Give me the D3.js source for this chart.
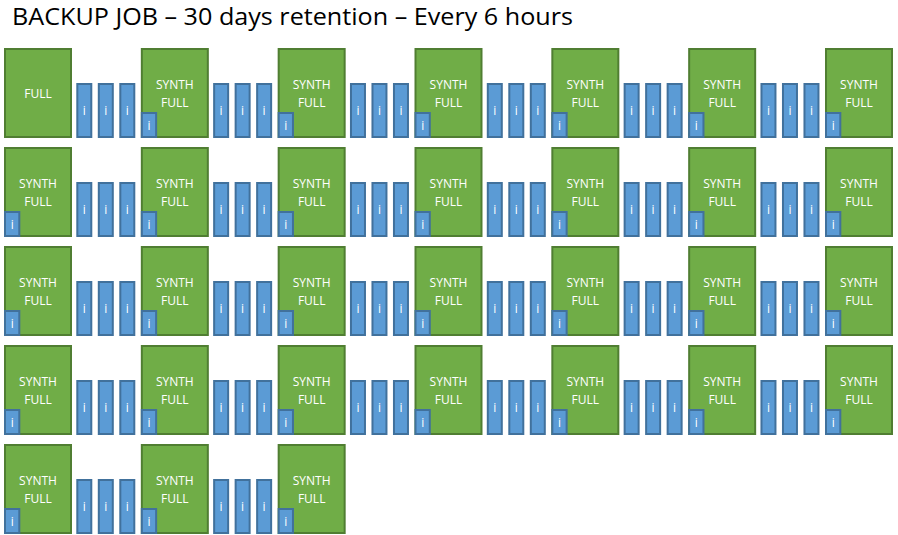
<!DOCTYPE html>
<html>
<head>
<meta charset="utf-8">
<script src="https://cdn.jsdelivr.net/npm/d3@7"></script>
<style>
  body { margin: 0; background: #fff; }
  svg text { font-family: "Open Sans", sans-serif; fill: #fff; }
</style>
</head>
<body>
<div class="board"></div>
<script>
// title of the sheet
var title = "BACKUP JOB \u2013 30 days retention \u2013 Every 6 hours";

// one entry per day, 31 days shown
var fullLabels = [
  "FULL", "SYNTH FULL", "SYNTH FULL", "SYNTH FULL", "SYNTH FULL", "SYNTH FULL", "SYNTH FULL",
  "SYNTH FULL", "SYNTH FULL", "SYNTH FULL", "SYNTH FULL", "SYNTH FULL", "SYNTH FULL", "SYNTH FULL",
  "SYNTH FULL", "SYNTH FULL", "SYNTH FULL", "SYNTH FULL", "SYNTH FULL", "SYNTH FULL", "SYNTH FULL",
  "SYNTH FULL", "SYNTH FULL", "SYNTH FULL", "SYNTH FULL", "SYNTH FULL", "SYNTH FULL", "SYNTH FULL",
  "SYNTH FULL", "SYNTH FULL", "SYNTH FULL"
];

// incrementals run between two fulls (every 6 hours -> 3 per day)
var incrementalLabels = ["i", "i", "i"];

// the small incremental sitting on each synthetic full
var synthIncrementalLabel = "i";

var boardInfo = { width: 898, height: 535, perRow: 7 };

var svg = d3.select(".board").append("svg")
  .attr("width", boardInfo.width)
  .attr("height", boardInfo.height);

svg.append("text")
  .attr("x", 12)
  .attr("y", 25)
  .attr("textLength", 561)
  .attr("lengthAdjust", "spacingAndGlyphs")
  .style("font-size", "23px")
  .style("fill", "#000")
  .text(title);

var nRows = Math.ceil(fullLabels.length / boardInfo.perRow);

var x = d3.scaleLinear().domain([0, boardInfo.perRow - 1]).range([4, 825]);
var y = d3.scaleLinear().domain([0, nRows - 1]).range([48, 444]);
// place of each incremental inside a gap, relative to the full on its left
var xi = d3.scaleLinear().domain([0, incrementalLabels.length - 1]).range([72.3, 115.3]);

var fullW = 68, fullH = 90;
var incW = 16, incH = 55;
var smallW = 16.3, smallH = 26;

var fulls = fullLabels.map(function(label, k) {
  return { label: label, col: k % boardInfo.perRow, row: Math.floor(k / boardInfo.perRow), k: k };
});

// gaps only inside a row and not after the last full
var incs = [];
fulls.forEach(function(d) {
  if (d.col < boardInfo.perRow - 1 && d.k < fullLabels.length - 1) {
    incrementalLabels.forEach(function(l, j) {
      incs.push({ label: l, col: d.col, row: d.row, j: j });
    });
  }
});

var green = { fill: "#70AD47", stroke: "#507E32" };
var blue = { fill: "#5B9BD5", stroke: "#41719C" };

// full boxes
var g = svg.selectAll(".full").data(fulls)
  .enter().append("g").attr("class", "full");

g.append("rect")
  .attr("x", function(d) { return x(d.col) + 1; })
  .attr("y", function(d) { return y(d.row) + 1; })
  .attr("width", fullW - 2)
  .attr("height", fullH - 2)
  .attr("fill", green.fill)
  .attr("stroke", green.stroke)
  .attr("stroke-width", 2);

g.each(function(d) {
  var words = d.label.split(" ");
  var cx = x(d.col) + fullW / 2;
  var base = words.length == 1 ? [50] : [41, 59];
  var sel = d3.select(this);
  words.forEach(function(w, n) {
    sel.append("text")
      .attr("x", cx)
      .attr("y", y(d.row) + base[n])
      .attr("text-anchor", "middle")
      .style("font-size", "12px")
      .text(w);
  });
});

// small incremental on every synthetic full
var small = svg.selectAll(".small").data(fulls.filter(function(d) { return d.label != "FULL"; }))
  .enter().append("g").attr("class", "small");

small.append("rect")
  .attr("x", function(d) { return x(d.col) + 1; })
  .attr("y", function(d) { return y(d.row) + fullH - smallH + 1; })
  .attr("width", smallW - 2)
  .attr("height", smallH - 2)
  .attr("fill", blue.fill)
  .attr("stroke", blue.stroke)
  .attr("stroke-width", 2);

small.append("text")
  .attr("x", function(d) { return x(d.col) + smallW / 2; })
  .attr("y", function(d) { return y(d.row) + fullH - 8; })
  .attr("text-anchor", "middle")
  .style("font-size", "12px")
  .text(synthIncrementalLabel);

// incrementals between fulls
var inc = svg.selectAll(".inc").data(incs)
  .enter().append("g").attr("class", "inc");

inc.append("rect")
  .attr("x", function(d) { return x(d.col) + xi(d.j) + 1; })
  .attr("y", function(d) { return y(d.row) + fullH - incH + 1; })
  .attr("width", incW - 2)
  .attr("height", incH - 2)
  .attr("fill", blue.fill)
  .attr("stroke", blue.stroke)
  .attr("stroke-width", 2);

inc.append("text")
  .attr("x", function(d) { return x(d.col) + xi(d.j) + incW / 2; })
  .attr("y", function(d) { return y(d.row) + fullH - 23; })
  .attr("text-anchor", "middle")
  .style("font-size", "12px")
  .text(function(d) { return d.label; });
</script>
</body>
</html>
